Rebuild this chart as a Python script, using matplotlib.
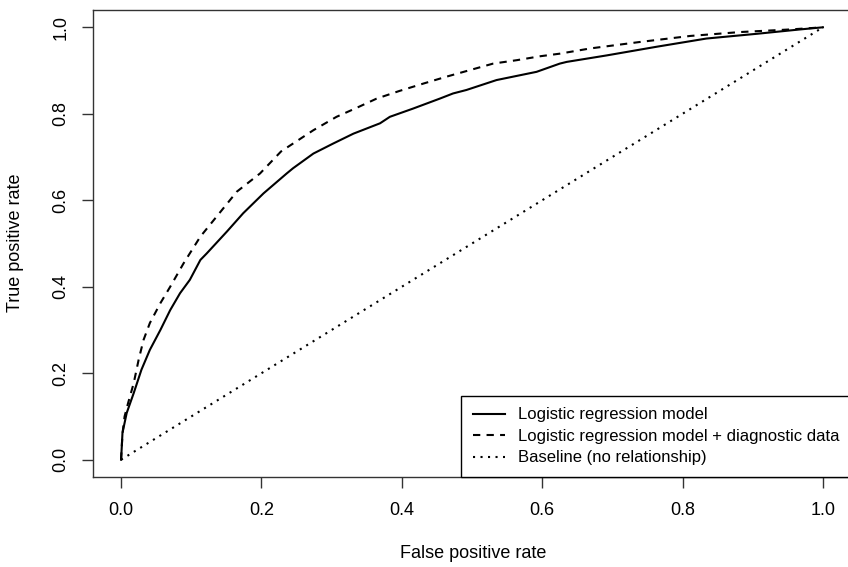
import numpy as np
import matplotlib
matplotlib.use("Agg")
import matplotlib.pyplot as plt

plt.rcParams['font.family'] = ['Liberation Sans', 'DejaVu Sans']

# ROC points
fpr_base = [0.0, 0.001, 0.002, 0.008, 0.018, 0.029, 0.041, 0.056, 0.070, 0.084,
            0.098, 0.113, 0.122, 0.151, 0.174, 0.203, 0.236, 0.245, 0.274, 0.302,
            0.331, 0.369, 0.383, 0.416, 0.454, 0.473, 0.492, 0.535, 0.568, 0.592,
            0.625, 0.635, 0.692, 0.763, 0.834, 0.906, 0.967, 1.0]
tpr_base = [0.0, 0.030, 0.062, 0.108, 0.154, 0.208, 0.254, 0.300, 0.346, 0.385,
            0.416, 0.462, 0.477, 0.528, 0.570, 0.616, 0.662, 0.674, 0.708, 0.731,
            0.754, 0.778, 0.793, 0.812, 0.835, 0.847, 0.855, 0.878, 0.889, 0.897,
            0.916, 0.920, 0.935, 0.955, 0.974, 0.985, 0.995, 1.0]

fpr_diag = [0.0, 0.002, 0.005, 0.010, 0.018, 0.025, 0.032, 0.041, 0.056, 0.070,
            0.089, 0.113, 0.136, 0.165, 0.198, 0.228, 0.274, 0.307, 0.336, 0.364,
            0.397, 0.431, 0.464, 0.497, 0.530, 0.564, 0.597, 0.625, 0.668, 0.739,
            0.811, 0.882, 0.953, 1.0]
tpr_diag = [0.0, 0.060, 0.100, 0.131, 0.177, 0.231, 0.277, 0.316, 0.362, 0.400,
            0.454, 0.516, 0.562, 0.620, 0.662, 0.713, 0.762, 0.793, 0.814, 0.835,
            0.853, 0.870, 0.886, 0.901, 0.916, 0.924, 0.933, 0.939, 0.951, 0.966,
            0.980, 0.989, 0.995, 1.0]

baseline = [0.0, 1.0]

labels = ["Logistic regression model",
          "Logistic regression model + diagnostic data",
          "Baseline (no relationship)"]

fig = plt.figure(figsize=(8.48, 5.67), dpi=100)
W, H = 848, 567
ax = fig.add_axes([93 / W, (H - 477) / H, (851 - 93) / W, (477 - 10) / H])

ax.plot(fpr_base, tpr_base, color='black', lw=1.5, label=labels[0])
ax.plot(fpr_diag, tpr_diag, color='black', lw=1.5, linestyle=(0, (3.5, 3)), label=labels[1])
ax.plot(baseline, baseline, color='black', lw=1.5, linestyle=(0, (1, 2.6)), label=labels[2])

ax.set_xlim(-0.04, 1.04)
ax.set_ylim(-0.04, 1.04)
ticks = [0.0, 0.2, 0.4, 0.6, 0.8, 1.0]
ax.set_xticks(ticks)
ax.set_yticks(ticks)
ax.set_xticklabels(["%.1f" % t for t in ticks])
ax.set_yticklabels(["%.1f" % t for t in ticks], rotation=90, va='center')
ax.tick_params(direction='out', length=8, width=1, labelsize=13, colors='#333333', labelcolor='black')
ax.tick_params(axis='x', pad=10)
ax.tick_params(axis='y', pad=9)
for s in ax.spines.values():
    s.set_color('#333333')
    s.set_linewidth(1)

fig.text(473 / W, 1 - 553 / H, "False positive rate", ha='center', va='center', fontsize=13)
fig.text(16 / W, 1 - 243 / H, "True positive rate", ha='center', va='center', fontsize=13, rotation=90)

leg = ax.legend(loc='lower right', borderaxespad=0, fancybox=False, fontsize=12,
                handlelength=1.9, handletextpad=0.8, labelspacing=0.39, borderpad=0.7,
                framealpha=1)
leg.get_frame().set_edgecolor('black')
leg.get_frame().set_linewidth(1)

fig.savefig("out.png", dpi=100)
